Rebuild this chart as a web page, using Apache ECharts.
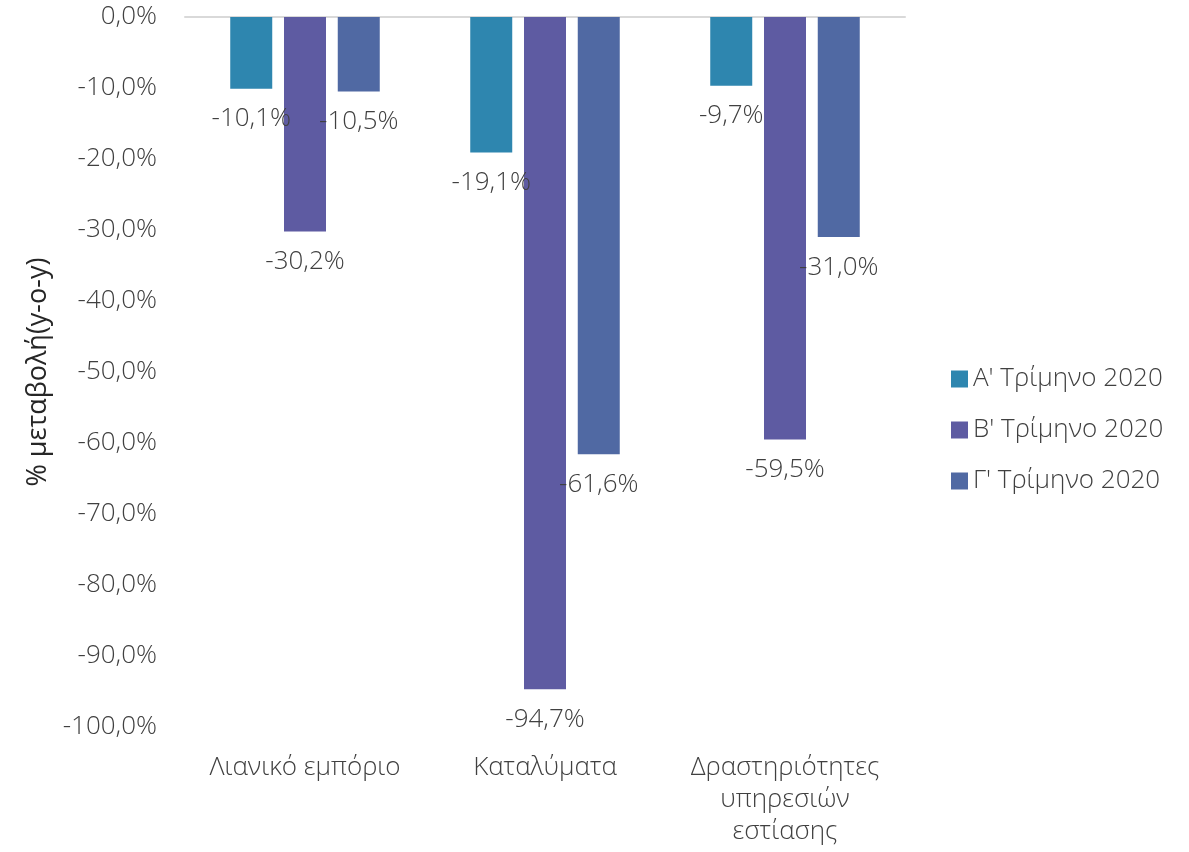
<!DOCTYPE html>
<html>
<head>
<meta charset="utf-8">
<script src="https://cdn.jsdelivr.net/npm/echarts@6/dist/echarts.min.js"></script>
<style>
  html, body { margin: 0; padding: 0; background: #fff; }
  #main { width: 1189px; height: 852px; }
</style>
</head>
<body>
<div id="main"></div>
<script>
var categories = ['Λιανικό εμπόριο', 'Καταλύματα', 'Δραστηριότητες\nυπηρεσιών\nεστίασης'];
var seriesNames = ["Α' Τρίμηνο 2020", "Β' Τρίμηνο 2020", "Γ' Τρίμηνο 2020"];
var q1 = [-10.1, -19.1, -9.7];
var q2 = [-30.2, -94.7, -59.5];
var q3 = [-10.5, -61.6, -31.0];
var colors = ['#2E86AF', '#5E5BA2', '#5069A3'];

var fontFamily = '"Open Sans", "Noto Sans", sans-serif';
var textColor = '#404040';

function pct(v) {
  return v.toFixed(1).replace('.', ',') + '%';
}

function makeSeries(name, data, color) {
  return {
    name: name,
    type: 'bar',
    data: data,
    barWidth: 42,
    barGap: '28%',
    itemStyle: { color: color },
    label: {
      show: true,
      position: 'bottom',
      distance: 17,
      color: textColor,
      fontFamily: fontFamily,
      fontWeight: 300,
      fontSize: 26,
      formatter: function (p) { return pct(p.value); }
    }
  };
}

var chart = echarts.init(document.getElementById('main'));

var option = {
  color: colors,
  textStyle: { fontFamily: fontFamily },
  grid: { left: 185, right: 284, top: 17, bottom: 125 },
  legend: {
    orient: 'vertical',
    left: 946,
    top: 361,
    itemWidth: 17,
    itemHeight: 17,
    itemGap: 25,
    icon: 'rect',
    textStyle: { color: textColor, fontSize: 26, fontWeight: 300, fontFamily: fontFamily },
    data: seriesNames
  },
  xAxis: [{
    type: 'category',
    data: categories,
    position: 'bottom',
    axisLine: { show: false },
    axisTick: { show: false },
    axisLabel: {
      interval: 0,
      hideOverlap: false,
      color: textColor,
      fontSize: 26,
      fontWeight: 300,
      lineHeight: 32,
      margin: 25,
      fontFamily: fontFamily
    }
  }, {
    type: 'category',
    data: categories,
    position: 'top',
    axisLine: { show: true, lineStyle: { color: '#D9D9D9', width: 2 } },
    axisTick: { show: false },
    axisLabel: { show: false }
  }],
  yAxis: {
    type: 'value',
    min: -100,
    max: 0,
    interval: 10,
    name: '% μεταβολή(y-o-y)',
    nameLocation: 'middle',
    nameGap: 132,
    nameRotate: 90,
    nameTextStyle: { color: '#262626', fontSize: 27, fontFamily: fontFamily },
    axisLine: { show: false },
    axisTick: { show: false },
    splitLine: { show: false },
    axisLabel: {
      color: textColor,
      fontSize: 26,
      fontWeight: 300,
      margin: 28,
      fontFamily: fontFamily,
      formatter: function (v) { return pct(v); }
    }
  },
  series: [
    makeSeries(seriesNames[0], q1, colors[0]),
    makeSeries(seriesNames[1], q2, colors[1]),
    makeSeries(seriesNames[2], q3, colors[2])
  ]
};

chart.setOption(option);
</script>
</body>
</html>
